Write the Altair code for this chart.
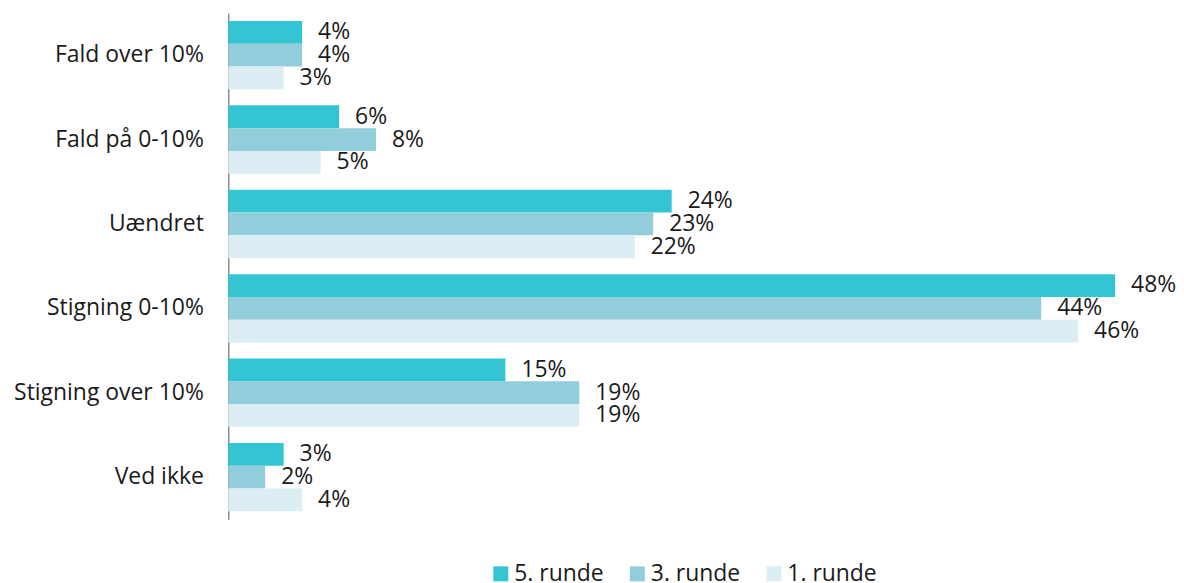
import altair as alt
import pandas as pd

categories = ["Fald over 10%", "Fald på 0-10%", "Uændret", "Stigning 0-10%", "Stigning over 10%", "Ved ikke"]
series = ["5. runde", "3. runde", "1. runde"]
runde5 = [4, 6, 24, 48, 15, 3]
runde3 = [4, 8, 23, 44, 19, 2]
runde1 = [3, 5, 22, 46, 19, 4]
colors = ["#33C5D3", "#92CDDC", "#DAEEF3"]

rows = []
for s, vals in zip(series, [runde5, runde3, runde1]):
    for c, v in zip(categories, vals):
        rows.append({"cat": c, "serie": s, "value": v, "label": f"{v}%"})
df = pd.DataFrame(rows)

FONT = "Open Sans"
FS = 23

base = alt.Chart(df).encode(
    y=alt.Y("cat:N", sort=categories, title=None,
            scale=alt.Scale(paddingInner=0.19, paddingOuter=0.095),
            axis=alt.Axis(domainColor="#8c8c8c", domainWidth=1.5, ticks=False,
                          labelPadding=25, labelFontSize=FS, labelFont=FONT,
                          labelColor="#1a1a1a", labelLimit=400)),
    yOffset=alt.YOffset("serie:N", sort=series,
                        scale=alt.Scale(paddingInner=0, paddingOuter=0)),
    x=alt.X("value:Q", axis=None, scale=alt.Scale(domain=[0, 50], nice=False)),
)

bars = base.mark_bar().encode(
    color=alt.Color("serie:N", sort=series,
                    scale=alt.Scale(domain=series, range=colors),
                    legend=alt.Legend(title=None, orient="none", direction="horizontal",
                                      legendX=262, legendY=551, padding=0,
                                      symbolType="square",
                                      symbolSize=225, symbolStrokeWidth=0,
                                      labelFontSize=FS, labelFont=FONT,
                                      labelColor="#1a1a1a", columnPadding=22,
                                      labelOffset=2))
)

text = base.mark_text(align="left", baseline="middle", dx=16, fontSize=FS,
                      font=FONT, color="#1a1a1a").encode(text="label:N")

chart = (bars + text).properties(
    width=927, height=508,
    background="white",
    autosize=alt.AutoSizeParams(type="none"),
    padding={"left": 221, "top": 4, "right": 24, "bottom": 70},
).configure_view(stroke=None)

chart.save("out.html", embed_options={"renderer": "svg", "actions": False})
